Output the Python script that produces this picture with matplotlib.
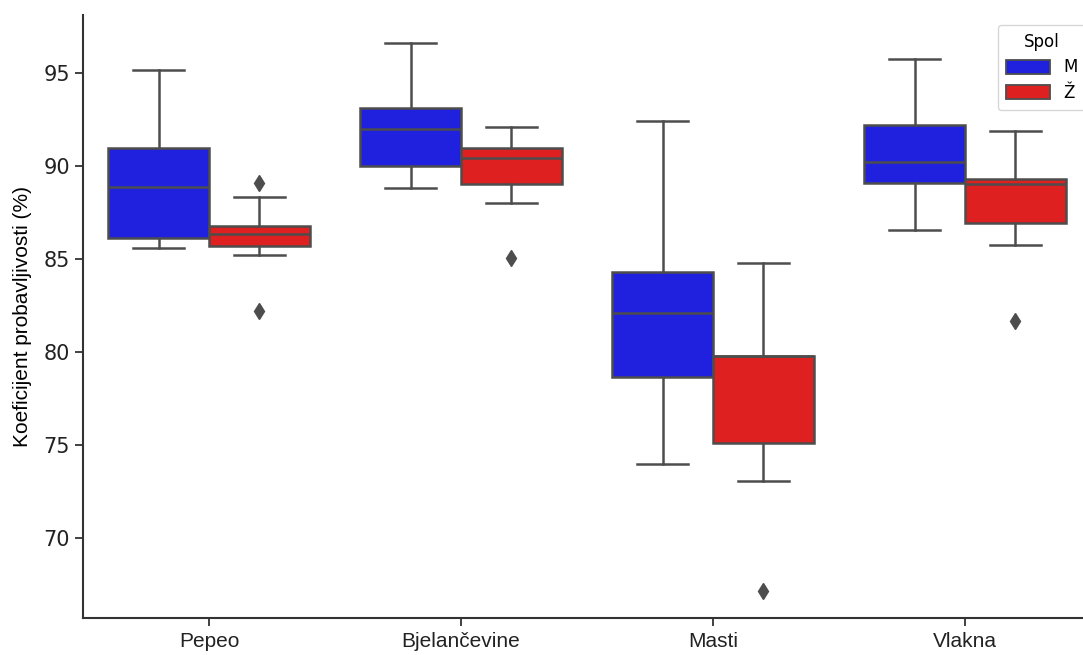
import numpy as np
import matplotlib
matplotlib.use("Agg")
import matplotlib.pyplot as plt
from matplotlib.patches import Patch

categories = ["Pepeo", "Bjelančevine", "Masti", "Vlakna"]
groups = ["M", "Ž"]
colors = {"M": "#2020df", "Ž": "#df2020"}

# box stats: whislo, q1, med, q3, whishi, outliers
stats_m = {
    "whislo": [85.6, 88.8, 74.0, 86.55],
    "q1":     [86.1, 90.0, 78.65, 89.1],
    "med":    [88.85, 92.0, 82.1, 90.2],
    "q3":     [90.95, 93.1, 84.3, 92.2],
    "whishi": [95.15, 96.6, 92.4, 95.75],
    "fliers": [[], [], [], []],
}
stats_f = {
    "whislo": [85.2, 88.0, 73.05, 85.75],
    "q1":     [85.7, 89.0, 75.1, 86.9],
    "med":    [86.35, 90.4, 79.8, 89.0],
    "q3":     [86.75, 90.95, 79.8, 89.3],
    "whishi": [88.3, 92.1, 84.75, 91.85],
    "fliers": [[89.1, 82.2], [85.05], [67.15], [81.65]],
}


def to_bxp(s):
    return [dict(whislo=s["whislo"][i], q1=s["q1"][i], med=s["med"][i], q3=s["q3"][i],
                 whishi=s["whishi"][i], fliers=s["fliers"][i]) for i in range(len(categories))]


fig = plt.figure(figsize=(10.83, 6.55), dpi=100)
ax = fig.add_axes([83 / 1083, 37 / 655, 1008 / 1083, 603 / 655])

gray = "#4d4d4d"
lw = 1.8
x = np.arange(len(categories))
for off, grp, s in [(-0.2, "M", stats_m), (0.2, "Ž", stats_f)]:
    ax.bxp(to_bxp(s), positions=x + off, widths=0.4, capwidths=0.2, patch_artist=True,
           boxprops=dict(facecolor=colors[grp], edgecolor=gray, lw=lw),
           medianprops=dict(color=gray, lw=lw),
           whiskerprops=dict(color=gray, lw=lw),
           capprops=dict(color=gray, lw=lw),
           flierprops=dict(marker="d", markerfacecolor=gray, markeredgecolor=gray, markersize=8))

ax.set_xlim(-0.5, 3.5)
ax.set_ylim(65.7, 98.1)
ax.set_xticks(x)
ax.set_xticklabels(categories, fontsize=15, family="Liberation Sans")
ax.set_yticks([70, 75, 80, 85, 90, 95])
ax.tick_params(axis="y", labelsize=15, length=6, width=1.3, colors="#333333")
ax.tick_params(axis="x", length=6, width=1.3, colors="#333333", pad=4)
for lab in ax.get_xticklabels() + ax.get_yticklabels():
    lab.set_color("#222222")
ax.set_ylabel("Koeficijent probavljivosti (%)", fontsize=15, family="Liberation Sans", labelpad=8)
for sp in ["top", "right"]:
    ax.spines[sp].set_visible(False)
for sp in ["left", "bottom"]:
    ax.spines[sp].set_linewidth(1.5)
    ax.spines[sp].set_color("#333333")

handles = [Patch(facecolor=colors[g], edgecolor=gray, lw=1.3, label=g) for g in groups]
leg = ax.legend(handles=handles, title="Spol", loc="upper right", bbox_to_anchor=(1.003, 0.998),
                fontsize=12, title_fontsize=12, frameon=True, handlelength=2.6,
                handleheight=0.9, borderpad=0.5, labelspacing=0.45)
leg.get_frame().set_edgecolor("#cccccc")

fig.savefig("out.png", dpi=100)
